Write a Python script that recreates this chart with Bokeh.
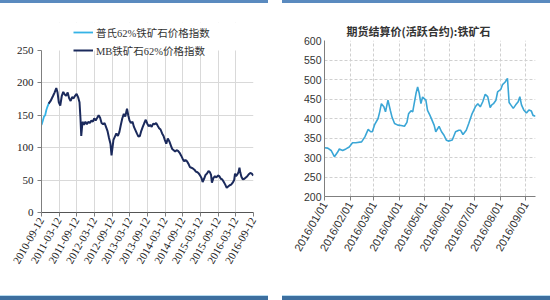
import pandas as pd
from bokeh.plotting import figure
from bokeh.layouts import row, column
from bokeh.models import FixedTicker, Legend, LegendItem, Spacer, Range1d, Div, BoxAnnotation
from bokeh.embed import file_html
from bokeh.resources import INLINE

# ---------------- data: left chart ----------------
legend_labels = ["普氏62%铁矿石价格指数", "MB铁矿石62%价格指数"]

platts_dates = ["2010-09-12", "2010-09-25", "2010-10-08", "2010-10-20", "2010-11-01",
                "2010-11-12", "2010-11-25", "2010-12-05"]
platts_values = [135, 141, 148, 150, 158, 163, 168, 170]

mb_dates = [
    "2010-11-25", "2010-12-15", "2011-01-10", "2011-01-25", "2011-02-12", "2011-02-25",
    "2011-03-10", "2011-03-25", "2011-04-10", "2011-04-25", "2011-05-10", "2011-05-25",
    "2011-06-10", "2011-06-25", "2011-07-10", "2011-07-25", "2011-08-10", "2011-08-25",
    "2011-09-10", "2011-09-25", "2011-10-10", "2011-10-20", "2011-10-28", "2011-11-10",
    "2011-11-25", "2011-12-10", "2011-12-25", "2012-01-10", "2012-01-25", "2012-02-10",
    "2012-02-25", "2012-03-10", "2012-03-25", "2012-04-10", "2012-04-25", "2012-05-10",
    "2012-05-25", "2012-06-10", "2012-06-25", "2012-07-10", "2012-07-25", "2012-08-10",
    "2012-08-25", "2012-09-05", "2012-09-15", "2012-09-25", "2012-10-10", "2012-10-25",
    "2012-11-10", "2012-11-25", "2012-12-10", "2012-12-25", "2013-01-10", "2013-01-25",
    "2013-02-12", "2013-02-25", "2013-03-10", "2013-03-25", "2013-04-10", "2013-04-25",
    "2013-05-10", "2013-05-25", "2013-06-10", "2013-06-25", "2013-07-10", "2013-07-25",
    "2013-08-10", "2013-08-25", "2013-09-10", "2013-09-25", "2013-10-10", "2013-10-25",
    "2013-11-10", "2013-11-25", "2013-12-10", "2013-12-25", "2014-01-10", "2014-01-25",
    "2014-02-10", "2014-02-25", "2014-03-10", "2014-03-25", "2014-04-10", "2014-04-25",
    "2014-05-10", "2014-05-25", "2014-06-10", "2014-06-25", "2014-07-10", "2014-07-25",
    "2014-08-10", "2014-08-25", "2014-09-10", "2014-09-25", "2014-10-10", "2014-10-25",
    "2014-11-10", "2014-11-25", "2014-12-10", "2014-12-25", "2015-01-10", "2015-01-25",
    "2015-02-10", "2015-02-25", "2015-03-10", "2015-03-25", "2015-04-05", "2015-04-20",
    "2015-05-05", "2015-05-20", "2015-06-05", "2015-06-20", "2015-07-01", "2015-07-10",
    "2015-07-25", "2015-08-10", "2015-08-25", "2015-09-10", "2015-09-25", "2015-10-10",
    "2015-10-25", "2015-11-10", "2015-11-25", "2015-12-10", "2015-12-25", "2016-01-10",
    "2016-01-25", "2016-02-10", "2016-02-25", "2016-03-05", "2016-03-15", "2016-03-25",
    "2016-04-10", "2016-04-20", "2016-04-28", "2016-05-10", "2016-05-25", "2016-06-10",
    "2016-06-25", "2016-07-10", "2016-07-25", "2016-08-10", "2016-08-25", "2016-09-10",
]
mb_values = [
    168, 172, 180, 185, 192, 185,
    170, 165, 180, 186, 182, 180,
    185, 176, 172, 178, 176, 180,
    183, 178, 170, 145, 118, 140,
    135, 140, 136, 140, 138, 142,
    140, 145, 142, 146, 150, 146,
    138, 136, 138, 132, 126, 115,
    106, 88, 100, 112, 117, 122,
    118, 124, 135, 145, 152, 148,
    160, 150, 142, 138, 140, 132,
    127, 122, 117, 118, 126, 132,
    138, 143, 137, 133, 135, 132,
    137, 136, 138, 134, 130, 128,
    122, 118, 112, 106, 114, 110,
    104, 98, 96, 94, 96, 95,
    92, 88, 83, 79, 81, 79,
    75, 70, 69, 68, 66, 63,
    62, 60, 57, 53, 47, 52,
    58, 60, 64, 62, 58, 46,
    53, 56, 54, 57, 56, 52,
    51, 47, 43, 38, 40, 42,
    43, 46, 50, 60, 56, 58,
    62, 69, 62, 55, 51, 52,
    54, 56, 59, 61, 60, 57,
]
left_tick_labels = ["2010-09-12", "2011-03-12", "2011-09-12", "2012-03-12", "2012-09-12",
                    "2013-03-12", "2013-09-12", "2014-03-12", "2014-09-12", "2015-03-12",
                    "2015-09-12", "2016-03-12", "2016-09-12"]
left_y_ticks = [0, 50, 100, 150, 200, 250]

# ---------------- data: right chart ----------------
right_title = "期货结算价(活跃合约):铁矿石"
dce_dates = [
    "2016-01-01", "2016-01-05", "2016-01-09", "2016-01-13", "2016-01-17", "2016-01-19",
    "2016-01-23", "2016-01-27", "2016-01-31", "2016-02-04", "2016-02-08", "2016-02-15",
    "2016-02-19", "2016-02-23", "2016-02-26", "2016-02-28", "2016-03-02", "2016-03-06",
    "2016-03-08", "2016-03-10", "2016-03-13", "2016-03-15", "2016-03-18", "2016-03-21",
    "2016-03-23", "2016-03-26", "2016-03-30", "2016-04-03", "2016-04-07", "2016-04-10",
    "2016-04-12", "2016-04-15", "2016-04-17", "2016-04-21", "2016-04-23", "2016-04-25",
    "2016-04-27", "2016-04-29", "2016-05-03", "2016-05-05", "2016-05-08", "2016-05-13",
    "2016-05-15", "2016-05-19", "2016-05-22", "2016-05-25", "2016-05-28", "2016-05-31",
    "2016-06-04", "2016-06-08", "2016-06-12", "2016-06-14", "2016-06-17", "2016-06-21",
    "2016-06-24", "2016-06-28", "2016-07-02", "2016-07-05", "2016-07-08", "2016-07-11",
    "2016-07-14", "2016-07-17", "2016-07-20", "2016-07-22", "2016-07-24", "2016-07-27",
    "2016-07-29", "2016-08-02", "2016-08-04", "2016-08-07", "2016-08-10", "2016-08-12",
    "2016-08-14", "2016-08-17", "2016-08-20", "2016-08-23", "2016-08-25", "2016-08-27",
    "2016-08-30", "2016-09-02", "2016-09-05", "2016-09-08", "2016-09-10", "2016-09-13",
]
dce_values = [
    325, 324, 318, 302, 314, 322,
    318, 322, 327, 338, 338, 340,
    353, 372, 366, 366, 385, 400,
    417, 438, 430, 417, 447, 420,
    403, 387, 383, 382, 380, 390,
    412, 420, 417, 464, 481, 464,
    438, 455, 447, 421, 408, 383,
    366, 380, 366, 357, 344, 342,
    345, 366, 370, 370, 359, 370,
    387, 412, 430, 438, 430, 443,
    462, 456, 428, 435, 438, 447,
    468, 475, 487, 493, 503, 441,
    435, 426, 435, 443, 456, 435,
    421, 414, 422, 419, 408, 406,
]
right_tick_labels = ["2016/01/01", "2016/02/01", "2016/03/01", "2016/04/01", "2016/05/01",
                     "2016/06/01", "2016/07/01", "2016/08/01", "2016/09/01"]
right_y_ticks = [200, 250, 300, 350, 400, 450, 500, 550, 600]


def ms(s):
    return pd.Timestamp(s.replace("/", "-")).timestamp() * 1000.0


STRIP_TOP = "#5a8abf"
STRIP_BOT = "#3d6f9f"


def strip(w, h, color, top_line=None):
    st = {"background-color": color, "margin": "0", "padding": "0"}
    if top_line:
        st["border-top"] = "1px solid " + top_line
        st["box-sizing"] = "border-box"
    return Div(text="", width=w, height=h, styles=st, margin=0)


SERIF = "'Times New Roman', 'Liberation Serif', 'Noto Sans CJK SC'"
SANS = "'Arial', 'Liberation Sans', 'Noto Sans CJK SC'"

# ---------------- left chart ----------------
# frame extends above the 250 line so the legend (partly above the axis top) is not clipped
p1 = figure(width=268, height=292, x_axis_type="datetime",
            x_range=Range1d(ms(left_tick_labels[0]), ms(left_tick_labels[-1])),
            y_range=Range1d(0, 293),
            min_border_left=41, min_border_right=15, min_border_top=19, min_border_bottom=83,
            toolbar_location=None, output_backend="svg")
p1.outline_line_color = None
r_platts = p1.line([pd.Timestamp(d) for d in platts_dates], platts_values,
                   line_color="#35b3e6", line_width=1.8)
r_mb = p1.line([pd.Timestamp(d) for d in mb_dates], mb_values,
               line_color="#1b2a5c", line_width=2)
lt = [ms(s) for s in left_tick_labels]
p1.xaxis.ticker = FixedTicker(ticks=lt)
p1.xaxis.major_label_overrides = {t: s for t, s in zip(lt, left_tick_labels)}
p1.xaxis.major_label_orientation = 1.05
p1.yaxis.ticker = FixedTicker(ticks=left_y_ticks)
p1.yaxis.bounds = (left_y_ticks[0], left_y_ticks[-1])
p1.ygrid.ticker = FixedTicker(ticks=left_y_ticks[1:-1])
p1.grid.grid_line_color = "#d9d9d9"
p1.grid.grid_line_width = 1
for ax in (p1.xaxis[0], p1.yaxis[0]):
    ax.axis_line_color = "#7f7f7f"
    ax.major_tick_line_color = "#7f7f7f"
    ax.minor_tick_line_color = None
    ax.major_tick_out = 4
    ax.major_tick_in = 0
    ax.major_label_text_font = SERIF
    ax.major_label_text_font_size = "11px"
    ax.major_label_text_color = "#222222"
p1.xaxis.major_label_standoff = 2
p1.yaxis.major_label_standoff = 4
p1.xaxis.axis_line_color = "#555555"

# white cover above the axis top so vertical grid lines stop at 250
cover = BoxAnnotation(bottom=left_y_ticks[-1], fill_color="white", fill_alpha=1,
                      line_color=None, level="glyph")
p1.add_layout(cover)

leg = Legend(items=[LegendItem(label=legend_labels[0], renderers=[r_platts]),
                    LegendItem(label=legend_labels[1], renderers=[r_mb])],
             location=(32, 154))
leg.border_line_color = None
leg.background_fill_alpha = 0
leg.label_text_font = SERIF
leg.label_text_font_size = "10.5px"
leg.label_text_color = "#333333"
leg.glyph_width = 20
leg.glyph_height = 16
leg.label_height = 16
leg.spacing = 2
leg.padding = 2
leg.margin = 0
leg.label_standoff = 3
p1.add_layout(leg)

# ---------------- right chart ----------------
p2 = figure(width=268, height=292, x_axis_type="datetime",
            x_range=Range1d(ms("2016-01-01"), ms("2016-09-13")),
            y_range=Range1d(200, 600),
            min_border_left=42, min_border_right=15, min_border_top=37, min_border_bottom=99,
            toolbar_location=None, output_backend="svg")
p2.outline_line_color = None
p2.line([pd.Timestamp(d) for d in dce_dates], dce_values, line_color="#3aa6d6", line_width=1.6)
rt = [ms(s) for s in right_tick_labels]
p2.xaxis.ticker = FixedTicker(ticks=rt)
p2.xaxis.major_label_overrides = {t: s for t, s in zip(rt, right_tick_labels)}
p2.xaxis.major_label_orientation = 1.05
p2.yaxis.ticker = FixedTicker(ticks=right_y_ticks)
p2.grid.grid_line_color = "#d0d0d0"
p2.grid.grid_line_dash = "3 2"
for ax in (p2.xaxis[0], p2.yaxis[0]):
    ax.axis_line_color = "#7f7f7f"
    ax.major_tick_line_color = "#7f7f7f"
    ax.minor_tick_line_color = None
    ax.major_tick_out = 4
    ax.major_tick_in = 0
    ax.major_label_text_font = SANS
    ax.major_label_text_font_size = "11px"
    ax.major_label_text_color = "#333333"
p2.yaxis.major_label_text_font_size = "10.5px"
p2.xaxis.major_label_standoff = 2
p2.yaxis.major_label_standoff = 3
p2.yaxis.major_tick_out = 0
p2.title.text = right_title
p2.title.align = "left"
p2.title.offset = 22
p2.title.standoff = 4
p2.title.text_font = "'Noto Sans CJK SC'"
p2.title.text_font_style = "bold"
p2.title.text_font_size = "11px"
p2.title.text_color = "#333333"

left_col = column(strip(268, 3, STRIP_TOP), p1, strip(268, 5, STRIP_BOT, "#b8dcf0"),
                  spacing=0)
right_col = column(strip(268, 3, STRIP_TOP), p2, strip(268, 5, STRIP_BOT, "#b8dcf0"),
                   spacing=0)
layout = row(left_col, Spacer(width=14, height=300), right_col, spacing=0)

open("out.html", "w").write(file_html(layout, INLINE))
